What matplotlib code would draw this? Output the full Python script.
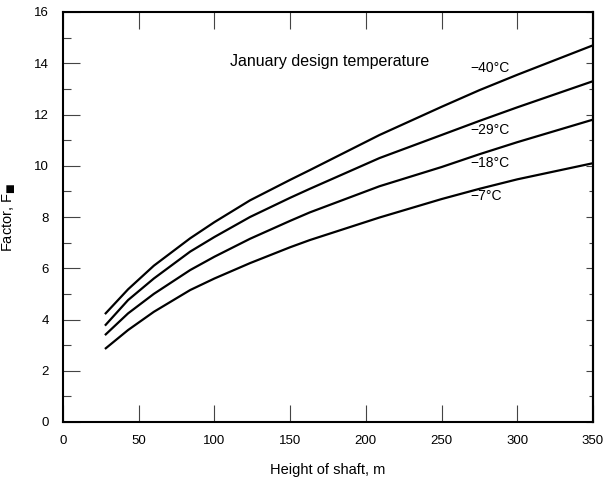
# Chimney-effect factor vs. shaft height for several January design temperatures

import numpy as np
import matplotlib
matplotlib.use('Agg')
import matplotlib.pyplot as plt

plt.rcParams['font.family'] = ['Liberation Sans', 'DejaVu Sans']

# Values
height = [27.7, 43, 60, 84, 100, 123.5, 150, 163, 209, 250, 275, 300, 350]
f_m40 = [4.21, 5.18, 6.1, 7.17, 7.8, 8.65, 9.45, 9.83, 11.2, 12.3, 12.95, 13.55, 14.7]
f_m29 = [3.76, 4.76, 5.6, 6.65, 7.22, 8.0, 8.75, 9.1, 10.3, 11.2, 11.75, 12.28, 13.3]
f_m18 = [3.39, 4.24, 5.0, 5.93, 6.45, 7.15, 7.85, 8.18, 9.2, 9.95, 10.45, 10.92, 11.8]
f_m7 = [2.85, 3.59, 4.3, 5.15, 5.6, 6.2, 6.82, 7.1, 7.98, 8.7, 9.1, 9.47, 10.1]
curve_labels = ['\u221240\u00b0C', '\u221229\u00b0C', '\u221218\u00b0C', '\u22127\u00b0C']
label_y = [13.8, 11.4, 10.1, 8.8]

fig = plt.figure(figsize=(6.06, 4.80), dpi=100)
ax = fig.add_axes([63/606, 58/480, 530/606, 410/480])

for f in (f_m40, f_m29, f_m18, f_m7):
    ax.plot(height, f, color='black', lw=1.6, solid_capstyle='butt')

for lab, yy in zip(curve_labels, label_y):
    ax.text(269, yy, lab, fontsize=10, va='center', ha='left')

ax.text(176, 14.05, 'January design temperature', fontsize=11.5, ha='center', va='center')

ax.set_xlim(0, 350)
ax.set_ylim(0, 16)
ax.set_xticks(np.arange(0, 351, 50))
ax.set_yticks(np.arange(0, 17, 2))
ax.set_yticks(np.arange(1, 16, 2), minor=True)
ax.tick_params(axis='x', direction='in', length=12, width=0.8, color='#444444',
               top=True, labelsize=9.5, pad=9)
ax.tick_params(axis='y', which='major', direction='in', length=12, width=0.8,
               color='#444444', labelsize=9.5, pad=10)
ax.tick_params(axis='y', which='minor', direction='in', length=6, width=0.8,
               color='#444444')
for s in ax.spines.values():
    s.set_linewidth(1.5)

# short ticks on the right side
sec = ax.secondary_yaxis('right')
sec.set_yticks(np.arange(0, 17, 2))
sec.set_yticks(np.arange(1, 16, 2), minor=True)
sec.tick_params(which='major', direction='in', length=5, width=0.8, color='#444444',
                labelright=False)
sec.tick_params(which='minor', direction='in', length=3, width=0.8, color='#444444')
sec.spines['right'].set_linewidth(1.5)

ax.set_xlabel('Height of shaft, m', fontsize=10.5, labelpad=12)
ax.set_ylabel('Factor, F$_{\\blacksquare}$', fontsize=10.5, labelpad=12)

fig.savefig('out.png', dpi=100)
